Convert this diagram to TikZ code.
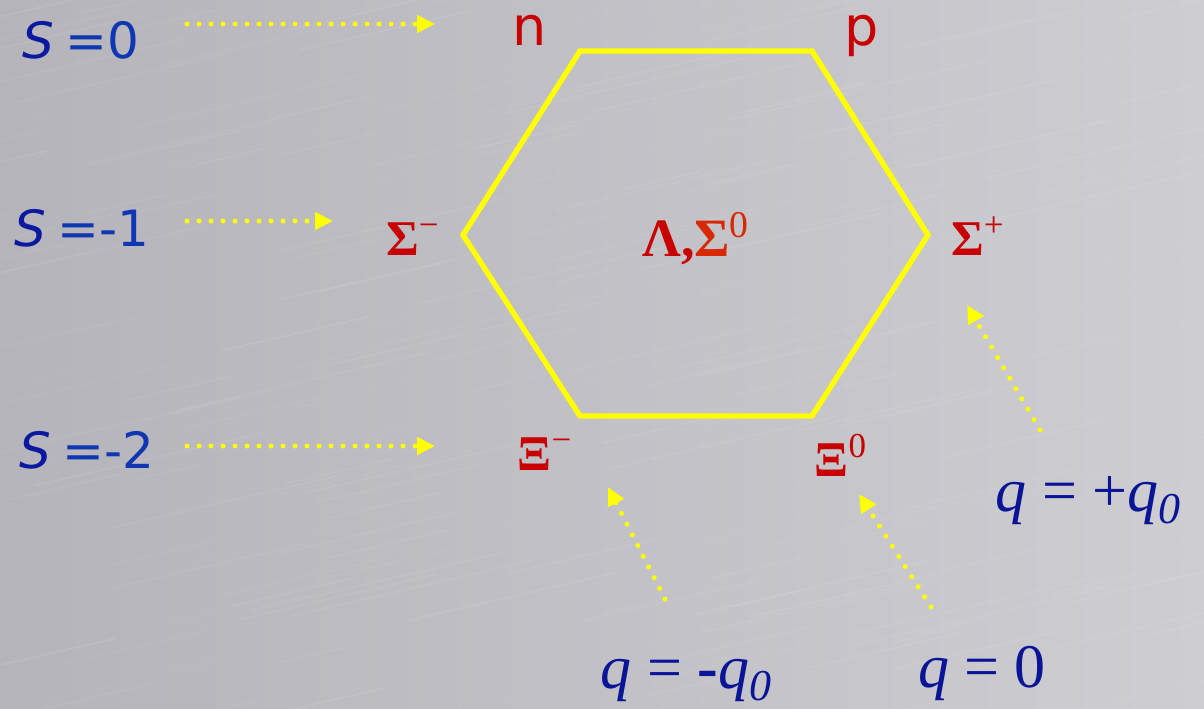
\documentclass[tikz,border=0pt]{standalone}
\usepackage{fontspec}
\setmainfont{Liberation Serif}
\newfontfamily\vsans{DejaVu Sans}
\usetikzlibrary{arrows.meta}
\definecolor{bgleft}{RGB}{180,180,186}
\definecolor{bgright}{RGB}{205,205,210}
\definecolor{hexyel}{RGB}{255,255,0}
\definecolor{sblue}{RGB}{10,25,160}
\definecolor{eblue}{RGB}{15,55,178}
\definecolor{qblue}{RGB}{10,20,150}
\definecolor{lred}{RGB}{200,0,0}
\definecolor{ored}{RGB}{215,40,0}
\tikzset{
  dotarrow/.style={hexyel, line width=2.5pt, line cap=round,
    dash pattern=on 0pt off 6pt,
    -{Triangle[length=9pt,width=8.5pt]}},
  slabel/.style={font=\vsans\fontsize{25pt}{30pt}\selectfont, text=eblue, anchor=base, inner sep=0pt},
  plabel/.style={font=\vsans\fontsize{27pt}{30pt}\selectfont, text=lred, anchor=base, inner sep=0pt},
  glabel/.style={font=\bfseries\fontsize{25pt}{30pt}\selectfont, text=lred, anchor=base, inner sep=0pt},
  qlabel/.style={font=\fontsize{31pt}{36pt}\selectfont, text=qblue, anchor=base, inner sep=0pt},
  hexline/.style={draw=hexyel, line width=2.7pt, line join=miter}
}
\newcommand{\qsub}{\raisebox{-0.2em}{\fontsize{22pt}{24pt}\selectfont\itshape 0}}
\newcommand{\sgap}{\hspace{0.22em}}
\begin{document}
\begin{tikzpicture}[x=0.5pt,y=-0.5pt]
\useasboundingbox (0,0) rectangle (1204,708);
\shade[left color=bgleft, right color=bgright] (0,0) rectangle (1204,708);
\begin{scope}
\clip (0,0) rectangle (1204,708);
\pgfmathsetseed{11}
\foreach \i in {1,...,260}{
  \pgfmathsetmacro{\xa}{rnd*1400-150}
  \pgfmathsetmacro{\ya}{rnd*800}
  \pgfmathsetmacro{\ll}{60+rnd*220}
  \pgfmathsetmacro{\op}{0.03+rnd*0.06}
  \draw[white, opacity=\op, line width=0.8pt] (\xa,\ya) -- ++(-13:\ll);
}
\end{scope}
% hexagon
\coordinate (h1) at (580,51);
\coordinate (h2) at (812,51);
\coordinate (h3) at (928,235);
\coordinate (h4) at (812,416);
\coordinate (h5) at (580,416);
\coordinate (h6) at (463,235);
\draw[hexline] (h1) -- (h2) -- (h3) -- (h4) -- (h5) -- (h6) -- cycle;
% strangeness labels
\node[slabel] (s0) at (81,58) {{\itshape\color{sblue}S}\sgap=0};
\node[slabel] (s1) at (82,246) {{\itshape\color{sblue}S}\sgap=-1};
\node[slabel] (s2) at (87,468) {{\itshape\color{sblue}S}\sgap=-2};
% particle labels
\node[plabel] (n) at (530,45) {n};
\node[plabel] (p) at (862,45) {p};
\node[glabel] (sm) at (413,255) {Σ\textsuperscript{\mdseries −}};
\node[glabel, font=\bfseries\fontsize{27pt}{30pt}\selectfont] (lc) at (696,256) {Λ,{\color{ored}Σ\textsuperscript{\mdseries 0}}};
\node[glabel] (sp) at (978,255) {Σ\textsuperscript{\mdseries +}};
\node[glabel] (xm) at (545,470) {Ξ\textsuperscript{\mdseries −}};
\node[glabel] (x0) at (841,476) {Ξ\textsuperscript{\mdseries 0}};
% charge labels
\node[qlabel] (qp) at (1088,511) {\textit{q} = +\textit{q}\qsub};
\node[qlabel] (qm) at (686,688) {\textit{q} = \textbf{-}\textit{q}\qsub};
\node[qlabel] (qz) at (982,687) {\textit{q} = 0};
% arrow ends
\coordinate (a0s) at (187,24);  \coordinate (a0e) at (435,24);
\coordinate (a1s) at (187,221); \coordinate (a1e) at (333,221);
\coordinate (a2s) at (187,446); \coordinate (a2e) at (435,446);
\coordinate (bps) at (1040,430); \coordinate (bpe) at (967,305);
\coordinate (bms) at (665,599); \coordinate (bme) at (608,487);
\coordinate (bzs) at (931,607); \coordinate (bze) at (859,494);
\draw[dotarrow] (a0s) -- (a0e);
\draw[dotarrow] (a1s) -- (a1e);
\draw[dotarrow] (a2s) -- (a2e);
\draw[dotarrow] (bps) -- (bpe);
\draw[dotarrow] (bms) -- (bme);
\draw[dotarrow] (bzs) -- (bze);
\end{tikzpicture}
\end{document}
